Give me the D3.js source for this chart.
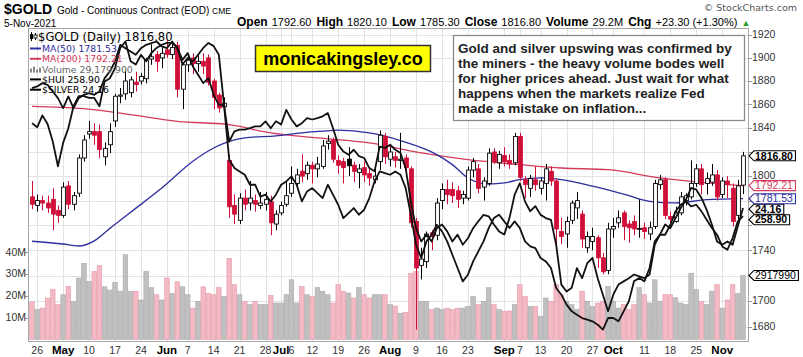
<!DOCTYPE html>
<html><head><meta charset="utf-8">
<script src="https://cdn.jsdelivr.net/npm/d3@7"></script>
<style>html,body{margin:0;padding:0;background:#fff}svg{display:block}</style>
</head><body>
<svg id="c" width="803" height="357"></svg>
<script>
const tradingDays = [
"2021-04-23","2021-04-26","2021-04-27","2021-04-28","2021-04-29","2021-04-30",
"2021-05-03","2021-05-04","2021-05-05","2021-05-06","2021-05-07","2021-05-10","2021-05-11","2021-05-12","2021-05-13","2021-05-14",
"2021-05-17","2021-05-18","2021-05-19","2021-05-20","2021-05-21","2021-05-24","2021-05-25","2021-05-26","2021-05-27","2021-05-28",
"2021-06-01","2021-06-02","2021-06-03","2021-06-04","2021-06-07","2021-06-08","2021-06-09","2021-06-10","2021-06-11",
"2021-06-14","2021-06-15","2021-06-16","2021-06-17","2021-06-18","2021-06-21","2021-06-22","2021-06-23","2021-06-24","2021-06-25",
"2021-06-28","2021-06-29","2021-06-30","2021-07-01","2021-07-02","2021-07-06","2021-07-07","2021-07-08","2021-07-09",
"2021-07-12","2021-07-13","2021-07-14","2021-07-15","2021-07-16","2021-07-19","2021-07-20","2021-07-21","2021-07-22","2021-07-23",
"2021-07-26","2021-07-27","2021-07-28","2021-07-29","2021-07-30","2021-08-02","2021-08-03","2021-08-04","2021-08-05","2021-08-06",
"2021-08-09","2021-08-10","2021-08-11","2021-08-12","2021-08-13","2021-08-16","2021-08-17","2021-08-18","2021-08-19","2021-08-20",
"2021-08-23","2021-08-24","2021-08-25","2021-08-26","2021-08-27","2021-08-30","2021-08-31","2021-09-01","2021-09-02","2021-09-03",
"2021-09-07","2021-09-08","2021-09-09","2021-09-10","2021-09-13","2021-09-14","2021-09-15","2021-09-16","2021-09-17",
"2021-09-20","2021-09-21","2021-09-22","2021-09-23","2021-09-24","2021-09-27","2021-09-28","2021-09-29","2021-09-30","2021-10-01",
"2021-10-04","2021-10-05","2021-10-06","2021-10-07","2021-10-08","2021-10-11","2021-10-12","2021-10-13","2021-10-14","2021-10-15",
"2021-10-18","2021-10-19","2021-10-20","2021-10-21","2021-10-22","2021-10-25","2021-10-26","2021-10-27","2021-10-28","2021-10-29",
"2021-11-01","2021-11-02","2021-11-03","2021-11-04","2021-11-05"];

const prevClose = 1782.0;
const opens = [1783,1776,1780,1778,1781,1772,1768,1792,1777,1786,
1815,1835,1837,1837,1816,1826,1846,1867,1869,1870,
1879,1880,1882,1899,1903,1900,1907,1903,1911,1873,
1894,1900,1895,1897,1900,1880,1868,1858,1813,1776,
1764,1782,1778,1780,1776,1777,1779,1761,1770,1777,
1786,1794,1804,1802,1809,1806,1808,1827,1830,1813,
1812,1814,1809,1803,1807,1802,1797,1812,1833,1814,
1816,1813,1815,1806,1763,1728,1731,1754,1752,1780,
1789,1789,1788,1782,1782,1805,1806,1791,1794,1820,
1811,1817,1813,1811,1833,1797,1790,1797,1790,1794,
1804,1796,1755,1753,1764,1774,1769,1742,1747,1750,
1734,1724,1757,1762,1770,1761,1763,1757,1758,1753,
1759,1793,1797,1767,1763,1770,1780,1783,1794,1806,
1794,1795,1801,1785,1796,1790,1768,1792.6];
const highs = [1796,1785,1784,1784,1790,1776,1795,1796,1787,1818,
1834,1846,1844,1843,1828,1844,1869,1874,1889,1884,
1888,1887,1900,1912,1906,1909,1916,1913,1914,1896,
1903,1904,1902,1904,1903,1882,1870,1866,1818,1785,
1786,1789,1796,1785,1787,1787,1784,1772,1779,1795,
1808,1806,1818,1812,1812,1816,1830,1834,1832,1817,
1815,1824,1812,1810,1812,1806,1807,1838,1836,1824,
1820,1836,1818,1808,1766,1742,1755,1756,1782,1794,
1797,1795,1792,1788,1808,1815,1810,1799,1823,1823,
1821,1824,1818,1836,1836,1800,1801,1808,1799,1810,
1808,1798,1766,1767,1780,1787,1772,1755,1758,1752,
1738,1762,1766,1772,1772,1764,1768,1781,1762,1763,
1797,1801,1799,1771,1775,1787,1786,1813,1810,1810,
1803,1810,1805,1799,1800,1794,1797,1820.1];
const lows = [1773,1771,1772,1770,1756,1762,1766,1773,1772,1783,
1812,1831,1826,1815,1809,1819,1841,1861,1864,1866,
1871,1877,1878,1894,1888,1891,1900,1899,1866,1856,
1888,1886,1888,1886,1876,1856,1853,1851,1766,1761,
1761,1772,1772,1771,1773,1772,1752,1756,1768,1775,
1783,1790,1795,1797,1794,1799,1806,1822,1811,1802,
1794,1800,1795,1790,1795,1792,1794,1805,1810,1808,
1807,1806,1801,1758,1678,1717,1726,1740,1748,1773,
1777,1778,1774,1777,1780,1799,1786,1780,1792,1810,
1806,1808,1806,1809,1796,1782,1783,1788,1785,1780,
1792,1745,1745,1742,1761,1765,1742,1738,1740,1726,
1721,1721,1750,1758,1748,1746,1752,1750,1749,1748,
1757,1789,1765,1759,1762,1768,1776,1781,1791,1785,
1785,1792,1780,1782,1782,1759,1764,1785.3];
const closes = [1777,1780,1778,1774,1769,1768,1791,1777,1784,1815,
1830,1837,1834,1822,1823,1837,1867,1868,1880,1881,
1877,1884,1898,1901,1897,1904,1903,1909,1873,1894,
1898,1895,1897,1893,1879,1866,1857,1861,1775,1769,
1782,1777,1782,1777,1778,1781,1762,1769,1776,1784,
1794,1801,1800,1809,1806,1810,1825,1829,1814,1809,
1807,1808.5,1804,1806,1801,1798.5,1800,1834,1816,1820,
1813,1814,1807,1762,1726,1733,1753,1751,1778,1789,
1785,1784,1781,1785,1805,1812,1790,1796,1819,1812,
1818,1812,1810,1833,1799,1793,1798,1793,1796,1806,
1796,1757,1751,1763,1778,1780,1749,1751,1751,1734,
1723,1757,1759,1766,1759,1758,1757,1757.5,1755,1758,
1794,1797,1768,1765,1770,1783,1784,1794,1806,1793,
1798,1801,1783,1796,1793,1763,1792,1816.8];
const volumesM = [17.1,13.6,14.3,18.9,22.7,15.9,20.4,24.2,17.4,28.0,
34.7,26.4,30.9,33.7,24.0,22.5,26.0,22.0,38.6,22.0,
22.0,18.0,31.0,23.6,20.4,18.0,28.0,21.0,26.3,24.0,
20.4,14.3,17.4,24.0,21.0,20.4,23.6,19.6,37.0,25.0,
20.4,17.4,15.9,17.4,15.9,15.9,20.0,16.6,16.6,20.4,
27.2,16.6,24.2,20.4,19.6,23.6,22.0,20.4,16.6,25.0,
22.0,21.2,18.9,23.6,20.4,18.9,20.4,20.4,20.4,15.9,
15.2,12.0,12.4,30.2,31.0,17.4,17.4,13.6,14.3,13.6,
14.3,13.6,14.3,14.3,15.0,19.6,15.9,17.4,23.6,15.9,
13.6,12.9,13.0,15.9,25.0,19.6,15.0,15.0,10.6,18.9,
17.4,25.0,20.4,17.4,15.9,13.6,22.0,17.4,15.0,16.6,
17.4,24.2,17.4,14.3,15.9,13.6,15.9,23.6,20.4,16.6,
27.2,17.4,20.4,20.4,19.0,16.6,15.9,30.2,22.7,17.4,
15.9,22.0,25.0,14.3,18.0,25.0,21.0,29.18];
const silver = [26.01,25.92,26.18,25.99,25.61,25.07,25.58,25.90,26.38,26.60,
26.60,26.56,26.56,26.38,26.92,26.99,27.21,27.65,27.79,27.36,
27.29,27.50,27.36,27.54,27.65,27.72,27.76,27.76,27.65,27.29,
27.43,27.36,27.50,27.65,27.76,27.69,27.50,26.41,25.61,25.83,
25.87,25.87,25.90,25.94,25.94,26.05,25.90,26.05,25.98,26.30,
26.09,25.94,26.01,26.12,26.09,26.12,26.16,26.23,25.90,25.54,
25.39,25.32,25.43,25.29,25.25,25.03,24.96,25.50,25.47,25.54,
25.43,25.36,25.03,24.30,23.72,23.43,23.58,23.43,23.72,23.80,
23.65,23.43,23.58,23.36,23.50,23.72,23.87,24.01,23.98,23.80,
23.65,23.58,23.94,24.45,24.70,24.30,24.09,24.20,24.01,23.94,
23.90,23.36,22.49,22.34,22.42,22.85,22.63,22.96,23.07,22.63,
22.27,21.91,22.27,22.49,22.56,22.63,22.71,22.67,22.63,22.71,
23.36,23.58,23.80,23.72,23.94,24.16,24.34,24.60,24.56,24.38,
24.12,23.80,23.43,23.36,23.43,23.36,23.76,24.16];
const hui = [293.6,294.05,294.96,294.5,292.7,290.89,288.18,291.34,288.18,290.89,
291.79,292.24,291.79,292.7,296.31,298.12,300.83,305.35,304.44,303.54,
302.64,304.44,305.35,305.8,306.25,304.9,304.44,306.25,304.44,301.28,
303.09,299.47,297.22,294.96,296.31,291.79,289.08,289.08,274.17,271.92,
271.01,270.11,267.4,267.4,264.2,264.7,262.88,264.7,267.4,268.3,
269.66,267.4,262.88,265.59,266.49,265.14,263.78,267.4,264.7,261.97,
258.36,259.71,261.07,259.27,260.62,263.78,268.3,271.01,270.56,270.11,
271.01,270.11,266.49,259.27,251.13,247.52,252.04,253.84,256.55,254.75,
252.04,248.42,244.81,241.2,243.0,246.61,249.32,252.04,255.65,258.36,
259.27,257.46,255.65,257.46,255.65,252.04,250.68,250.23,247.52,246.61,
244.81,239.39,237.58,234.87,233.06,232.16,231.25,230.8,230.35,229.45,
228.09,231.25,231.25,230.35,233.06,235.77,241.2,242.1,241.2,244.81,
252.04,253.84,253.84,256.55,260.17,261.97,262.88,261.52,261.97,260.17,
257.91,255.65,253.84,250.68,249.77,252.94,257.46,258.90];

const ma50Dates = ["2021-04-23","2021-05-03","2021-05-06","2021-05-11","2021-05-14","2021-05-20","2021-05-28","2021-06-08","2021-06-14","2021-06-17","2021-06-22","2021-06-30","2021-07-08","2021-07-14","2021-07-19","2021-07-27","2021-08-04","2021-08-13","2021-08-18","2021-08-23","2021-08-27","2021-09-01","2021-09-07","2021-09-13","2021-09-17","2021-09-27","2021-10-05","2021-10-12","2021-10-19","2021-10-27","2021-11-05"];
const ma50Values = [1747.2,1745.0,1743.4,1747.5,1757.5,1770.5,1790.2,1812.3,1823.3,1828.9,1831.7,1833.5,1836.0,1837.4,1838.2,1835.9,1829.5,1817.8,1809.5,1798.5,1793.5,1794.4,1797.1,1798.5,1797.1,1791.7,1785.2,1779.4,1778.1,1780.7,1781.53];
const ma200Dates = ["2021-04-23","2021-05-07","2021-05-20","2021-06-03","2021-06-17","2021-06-29","2021-07-13","2021-07-27","2021-08-10","2021-08-23","2021-09-07","2021-09-17","2021-09-30","2021-10-14","2021-10-27","2021-11-05"];
const ma200Values = [1858.4,1856.4,1851.3,1845.7,1842.9,1835.9,1831.7,1827.5,1819.2,1813.6,1809.5,1806.7,1805.3,1798.5,1794.4,1792.21];

const priceTicks = [1680,1700,1720,1740,1760,1780,1800,1820,1840,1860,1880,1900,1920];
const volumeTicks = [10,20,30,40];
const volumeTickLabels = ["10M","20M","30M","40M"];
const xTickDates = ["2021-04-26","2021-05-03","2021-05-10","2021-05-17","2021-05-24","2021-06-01","2021-06-07","2021-06-14","2021-06-21","2021-06-28","2021-07-01","2021-07-06","2021-07-12","2021-07-19","2021-07-26","2021-08-02","2021-08-09","2021-08-16","2021-08-23","2021-09-01","2021-09-07","2021-09-13","2021-09-20","2021-09-27","2021-10-01","2021-10-11","2021-10-18","2021-10-25","2021-11-01"];
const xTickLabels = ["26","May","10","17","24","Jun","7","14","21","28","Jul","6","12","19","26","Aug","9","16","23","Sep","7","13","20","27","Oct","11","18","25","Nov"];
const monthLabels = ["May","Jun","Jul","Aug","Sep","Oct","Nov"];

const statLabels = ["Open","High","Low","Close","Volume","Chg"];
const statValues = ["1792.60","1820.10","1785.30","1816.80","29.2M","+23.30 (+1.30%)"];
const noteLines = ["Gold and silver upswing was confirmed by","the miners - the heavy volume bodes well","for higher prices ahead. Just wait for what","happens when the markets realize Fed","made a mistake on inflation..."];

// ---------- drawing ----------
const SANS = "Liberation Sans, Arial, sans-serif";
const VSANS = "DejaVu Sans, Verdana, sans-serif";
const RED = "#d0103a", BLUE = "#2e2e9e", MARED = "#d43a5c";
const P = {l:28, r:748, t:28, b:341};
const svg = d3.select("#c");
svg.append("rect").attr("width",803).attr("height",357).attr("fill","#fff");

const x = d3.scalePoint().domain(tradingDays).range([32, 743]);
const step = x.step();
const y = d3.scaleLog().domain([1680,1920]).range([327,35]);
const yV = d3.scaleLinear().domain([0,40]).range([339.5,251.7]);
const yS = d3.scaleLinear().domain([21.5,27.867]).range([330,38]);
const yH = d3.scaleLinear().domain([228,307.2]).range([330,38]);
const last = tradingDays.length-1;

// grid
const grid = svg.append("g").attr("stroke","#e3e3e3").attr("stroke-width",1);
priceTicks.forEach(t=>{const yy=Math.round(y(t))+0.5;grid.append("line").attr("x1",P.l).attr("x2",P.r).attr("y1",yy).attr("y2",yy);});
xTickDates.forEach(d=>{const xx=Math.round(x(d))+0.5;grid.append("line").attr("x1",xx).attr("x2",xx).attr("y1",P.t).attr("y2",P.b);});

// volume
const vg = svg.append("g");
tradingDays.forEach((d,i)=>{
  const pc = i===0?prevClose:closes[i-1];
  const down = closes[i] < pc;
  const top = yV(volumesM[i]);
  vg.append("rect").attr("x",x(d)-step/2+0.3).attr("width",step-0.6)
    .attr("y",top).attr("height",yV(0)-top)
    .attr("fill",down?"#f3b9c4":"#c0c0c0").attr("stroke",down?"#e59aaa":"#a9a9a9").attr("stroke-width",0.6);
});

// moving averages
const maLine = d3.line().curve(d3.curveMonotoneX);
svg.append("path").attr("d",maLine(ma200Dates.map((d,i)=>[x(d),y(ma200Values[i])])))
  .attr("fill","none").attr("stroke",MARED).attr("stroke-width",1.3);
svg.append("path").attr("d",maLine(ma50Dates.map((d,i)=>[x(d),y(ma50Values[i])])))
  .attr("fill","none").attr("stroke",BLUE).attr("stroke-width",1.3);

// candles
const cg = svg.append("g");
tradingDays.forEach((d,i)=>{
  const pc = i===0?prevClose:closes[i-1];
  const col = closes[i] < pc ? RED : "#000";
  const filled = closes[i] < opens[i];
  const cx = Math.round(x(d))+0.5;
  cg.append("line").attr("x1",cx).attr("x2",cx).attr("y1",y(highs[i])).attr("y2",y(lows[i])).attr("stroke",col).attr("stroke-width",1);
  const y0 = y(Math.max(opens[i],closes[i])), y1 = y(Math.min(opens[i],closes[i]));
  const h = Math.max(1, y1-y0);
  cg.append("rect").attr("x",cx-1.9).attr("width",3.8).attr("y",y0).attr("height",h)
    .attr("fill",filled?col:"#fff").attr("stroke",col).attr("stroke-width",0.9);
});

// overlays
const ol = d3.line();
svg.append("path").attr("d",ol(tradingDays.map((d,i)=>[x(d),yH(hui[i])]))).attr("fill","none").attr("stroke","#111").attr("stroke-width",1.8).attr("stroke-linejoin","round");
svg.append("path").attr("d",ol(tradingDays.map((d,i)=>[x(d),yS(silver[i])]))).attr("fill","none").attr("stroke","#111").attr("stroke-width",1.8).attr("stroke-linejoin","round");

// frame
svg.append("rect").attr("x",P.l+0.5).attr("y",P.t+0.5).attr("width",P.r-P.l).attr("height",P.b-P.t).attr("fill","none").attr("stroke","#a6a6a6");

// tags (positions first, used to hide covered tick labels)
const tagList = [
  {v:y(closes[last]), t:closes[last].toFixed(2), c:"#000", b:true},
  {v:y(ma200Values[ma200Values.length-1]), t:ma200Values[ma200Values.length-1].toFixed(2), c:MARED, b:false},
  {v:y(ma50Values[ma50Values.length-1]), t:ma50Values[ma50Values.length-1].toFixed(2), c:BLUE, b:false},
  {v:yS(silver[last]), t:silver[last].toFixed(2), c:"#000", b:true},
  {v:yH(hui[last]), t:hui[last].toFixed(2), c:"#000", b:true}
];
for(let k=1;k<tagList.length;k++){ if(tagList[k].v < tagList[k-1].v+10.5) tagList[k].v = tagList[k-1].v+10.5; }
const volTagY = yV(volumesM[last]);
const tagYs = tagList.map(t=>t.v).concat([volTagY]);

// right axis
const ra = svg.append("g").attr("font-family",SANS).attr("font-size",10.5).attr("fill","#333");
priceTicks.forEach(t=>{const yy=y(t);
  ra.append("line").attr("x1",P.r).attr("x2",P.r+4).attr("y1",Math.round(yy)+0.5).attr("y2",Math.round(yy)+0.5).attr("stroke","#999");
  if(tagYs.every(ty=>Math.abs(ty-yy)>8.5)) ra.append("text").attr("x",752).attr("y",yy+3.3).text(t);});
// left volume axis
volumeTicks.forEach((t,k)=>{const yy=yV(t);
  ra.append("line").attr("x1",P.l-3).attr("x2",P.l).attr("y1",Math.round(yy)+0.5).attr("y2",Math.round(yy)+0.5).attr("stroke","#999");
  ra.append("text").attr("x",26).attr("y",yy+3.8).attr("text-anchor","end").text(volumeTickLabels[k]);});
// bottom axis
xTickDates.forEach((d,k)=>{const lab=xTickLabels[k];const isM=monthLabels.includes(lab);
  ra.append("text").attr("x",x(d)).attr("y",354).attr("text-anchor","middle")
    .attr("font-weight",isM?"bold":"normal").attr("font-size",isM?11.5:10.5).attr("fill",isM?"#000":"#333").text(lab);});

const tagG = svg.append("g").attr("font-family",SANS).attr("font-size",10.5);
function tag(yc, txt, col, bold){
  const g = tagG.append("g");
  const poly = g.append("polygon");
  const t = g.append("text").attr("x",755).attr("y",yc+3.8).attr("fill",col).attr("font-weight",bold?"bold":"normal").text(txt);
  const w = t.node().getComputedTextLength();
  const r = 755 + w + 2.5;
  poly.attr("points",`${P.r+1},${yc} ${P.r+6},${yc-5} ${r},${yc-5} ${r},${yc+5} ${P.r+6},${yc+5}`)
    .attr("fill","#fff").attr("stroke",col).attr("stroke-width",1.1);
}
tag(volTagY, "2917990", "#000", false);
for(let k=tagList.length-1;k>=0;k--) tag(tagList[k].v, tagList[k].t, tagList[k].c, tagList[k].b);

// legend
const lg = svg.append("g").attr("font-family",VSANS);
lg.append("line").attr("x1",31.5).attr("x2",31.5).attr("y1",32).attr("y2",41).attr("stroke","#000");
lg.append("rect").attr("x",30).attr("y",34).attr("width",3).attr("height",5).attr("fill","#000");
lg.append("line").attr("x1",35.5).attr("x2",35.5).attr("y1",33).attr("y2",40).attr("stroke","#000");
lg.append("rect").attr("x",34).attr("y",35).attr("width",3).attr("height",3).attr("fill","#fff").attr("stroke","#000").attr("stroke-width",0.8);
lg.append("text").attr("x",38).attr("y",40.5).attr("font-size",11.6).attr("fill","#000").text(`$GOLD (Daily) ${closes[last].toFixed(2)}`);
const legRows = [
  {t:`MA(50) ${ma50Values[ma50Values.length-1].toFixed(2)}`, c:BLUE, y:52},
  {t:`MA(200) ${ma200Values[ma200Values.length-1].toFixed(2)}`, c:MARED, y:62.3},
  {t:`Volume 29,179,900`, c:"#666", y:72.6, bar:true},
  {t:`$HUI ${hui[last].toFixed(2)}`, c:"#000", y:82.9},
  {t:`$SILVER ${silver[last].toFixed(2)}`, c:"#000", y:93.2}
];
legRows.forEach(r=>{
  if(r.bar){
    [[30,4],[33,6],[36,3],[39,5]].forEach(([bx,bh])=>lg.append("rect").attr("x",bx).attr("y",r.y-bh).attr("width",2).attr("height",bh).attr("fill","#888"));
  } else {
    lg.append("line").attr("x1",30).attr("x2",41).attr("y1",r.y-3.5).attr("y2",r.y-3.5).attr("stroke",r.c).attr("stroke-width",2);
  }
  lg.append("text").attr("x",42).attr("y",r.y).attr("font-size",9.3).attr("fill",r.c).text(r.t);
});

// watermark box
svg.append("rect").attr("x",255.5).attr("y",45.5).attr("width",175).attr("height",26).attr("fill","#ffff00").attr("stroke","#333").attr("stroke-width",1.5);
svg.append("text").attr("x",343).attr("y",64.5).attr("text-anchor","middle").attr("font-family",SANS).attr("font-weight","bold").attr("font-size",18).attr("fill","#000").text("monicakingsley.co");

// note box
svg.append("rect").attr("x",453.5).attr("y",35.5).attr("width",291).attr("height",85).attr("fill","#fff").attr("stroke","#8a8a8a").attr("stroke-width",1.3);
const nt = svg.append("g").attr("font-family",SANS).attr("font-weight","bold").attr("font-size",13.5).attr("fill","#222");
noteLines.forEach((l,k)=>nt.append("text").attr("x",458).attr("y",53+k*15).text(l));

// header
const hd = svg.append("g").attr("font-family",SANS).attr("fill","#000");
hd.append("text").attr("x",4).attr("y",14).attr("font-size",14).attr("font-weight","bold").text("$GOLD");
hd.append("text").attr("x",57).attr("y",13.5).attr("font-size",10).text("Gold - Continuous Contract (EOD)");
hd.append("text").attr("x",212).attr("y",13.5).attr("font-size",8.5).text("CME");
hd.append("text").attr("x",4).attr("y",26.5).attr("font-size",10).text("5-Nov-2021");
const st = hd.append("text").attr("x",237).attr("y",26);
statLabels.forEach((lab,k)=>{
  st.append("tspan").attr("dx",k?5:0).attr("font-weight","bold").attr("font-size",12).text(lab);
  st.append("tspan").attr("dx",4).attr("font-size",11).text(statValues[k]);
});
st.append("tspan").attr("dx",4).attr("font-size",9).attr("fill","#2a9a2a").text("▲");
hd.append("text").attr("x",797).attr("y",11).attr("text-anchor","end").attr("font-family",VSANS).attr("font-size",9.5).attr("fill","#555").text("© StockCharts.com");
</script>
</body></html>
